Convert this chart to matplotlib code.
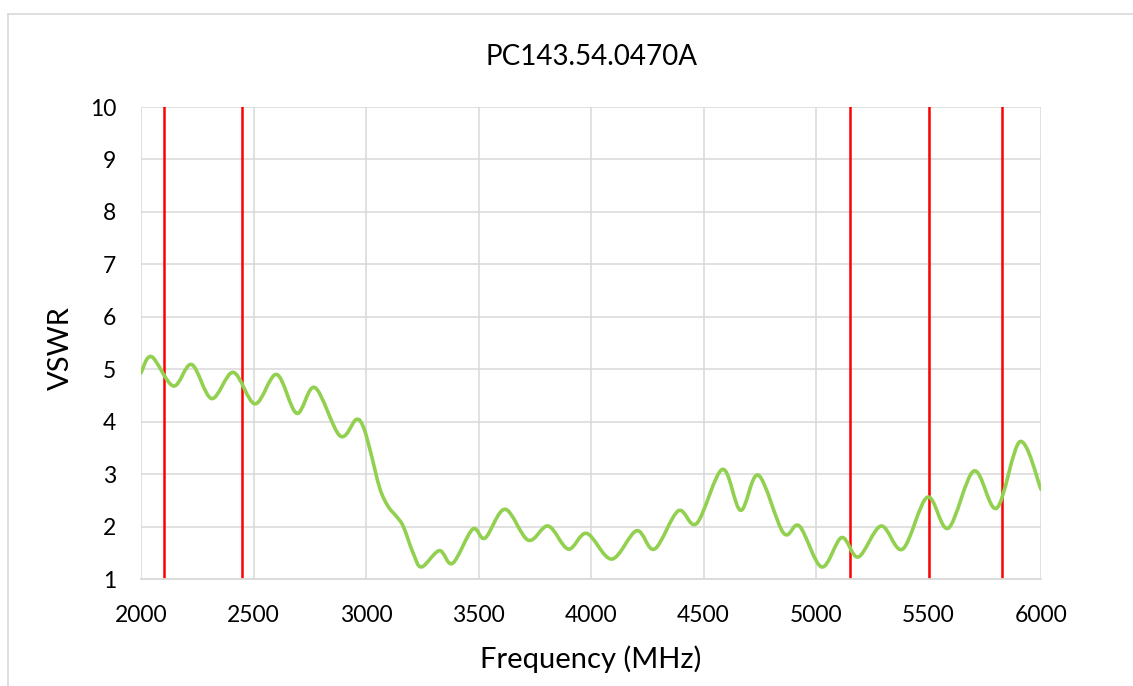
import numpy as np
import matplotlib.pyplot as plt
from matplotlib.path import Path
from matplotlib.patches import PathPatch
from matplotlib.lines import Line2D

plt.rcParams['font.family'] = ['Lato', 'DejaVu Sans']

title = 'PC143.54.0470A'

freq = [2000, 2047, 2144, 2225, 2314, 2410, 2507, 2603, 2692, 2773, 2884, 2956,
        2988, 3018, 3062, 3099, 3136, 3166, 3210, 3247, 3326, 3385, 3474, 3529,
        3618, 3721, 3810, 3899, 3981, 4092, 4203, 4282, 4388, 4470, 4584, 4665,
        4744, 4855, 4926, 5025, 5114, 5188, 5289, 5385, 5495, 5588, 5702, 5803,
        5907, 6000]
vswr = [4.93, 5.24, 4.68, 5.09, 4.44, 4.94, 4.34, 4.90, 4.16, 4.65, 3.73, 4.04,
        3.90, 3.46, 2.72, 2.38, 2.19, 2.00, 1.49, 1.23, 1.54, 1.30, 1.95, 1.78,
        2.33, 1.74, 2.01, 1.57, 1.87, 1.38, 1.92, 1.57, 2.30, 2.06, 3.09, 2.31,
        2.98, 1.88, 2.01, 1.23, 1.79, 1.42, 2.01, 1.57, 2.56, 1.97, 3.06, 2.35,
        3.62, 2.71]

# band edges (MHz)
band_edges = [2100, 2450, 5150, 5500, 5825]

xticks = [2000, 2500, 3000, 3500, 4000, 4500, 5000, 5500, 6000]
yticks = list(range(1, 11))


def smooth_path(xs, ys):
    # Excel-style smoothed line: cubic Bezier segments through the points
    p = np.column_stack([xs, ys]).astype(float)
    n = len(p)
    verts = [p[0]]
    codes = [Path.MOVETO]
    for i in range(n - 1):
        p0 = p[max(i - 1, 0)]
        p1 = p[i]
        p2 = p[i + 1]
        p3 = p[min(i + 2, n - 1)]
        c1 = p1 + (p2 - p0) / 6.0
        c2 = p2 - (p3 - p1) / 6.0
        verts += [c1, c2, p2]
        codes += [Path.CURVE4] * 3
    return Path(verts, codes)


fig = plt.figure(figsize=(11.33, 6.86), dpi=100)
ax = fig.add_axes([141 / 1133, 1 - 579 / 686, 900 / 1133, 472 / 686])

grid_c = '#d9d9d9'
ax.set_xlim(2000, 6000)
ax.set_ylim(1, 10)
ax.set_xticks(xticks)
ax.set_yticks(yticks)
ax.grid(True, color=grid_c, lw=1.1)
ax.set_axisbelow(True)
for s in ax.spines.values():
    s.set_visible(False)
ax.spines['bottom'].set_visible(True)
ax.spines['bottom'].set_color(grid_c)
ax.spines['bottom'].set_linewidth(1.3)
ax.tick_params(length=0, labelsize=16.5)
ax.tick_params(axis='x', pad=19)
ax.tick_params(axis='y', pad=18)

for f in band_edges:
    ax.axvline(f, color='#ff0000', lw=1.8, zorder=2)

ax.add_patch(PathPatch(smooth_path(freq, vswr), fc='none', ec='#92d050',
                       lw=2.6, zorder=3, capstyle='round'))

ax.set_title(title, fontsize=20, pad=0, y=1 + 42 / 472)
ax.set_xlabel('Frequency (MHz)', fontsize=21, va='baseline')
ax.xaxis.set_label_coords(0.5, -89 / 472)
ax.set_ylabel('VSWR', fontsize=21)
ax.yaxis.set_label_coords(-0.074, 0.49)

# chart area border
fig.add_artist(Line2D([8 / 1133, 8 / 1133], [0, 1 - 14 / 686], color=grid_c, lw=1.2))
fig.add_artist(Line2D([8 / 1133, 1], [1 - 14 / 686, 1 - 14 / 686], color=grid_c, lw=1.2))

fig.savefig('out.png', dpi=100)
